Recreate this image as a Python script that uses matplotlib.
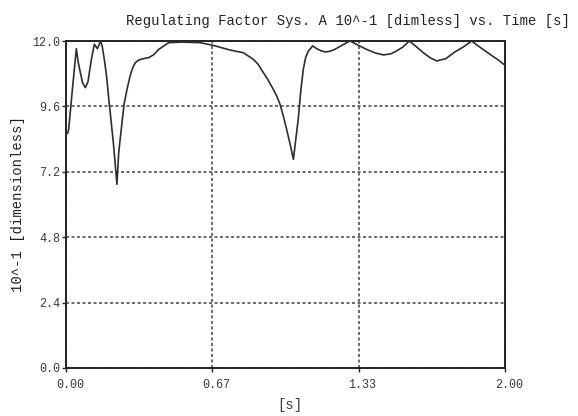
import matplotlib
matplotlib.use('Agg')
import matplotlib.pyplot as plt
from matplotlib.transforms import ScaledTranslation

# regulating factor trace (10^-1, dimensionless) against time in seconds
time_s = [0.0, 0.008, 0.012, 0.030, 0.047, 0.056, 0.075, 0.088, 0.100, 0.115,
          0.129, 0.143, 0.158, 0.165, 0.175, 0.185, 0.195, 0.205, 0.217, 0.225,
          0.232, 0.240, 0.255, 0.265, 0.278, 0.290, 0.301, 0.315, 0.331, 0.350,
          0.377, 0.400, 0.422, 0.468, 0.528, 0.610, 0.671, 0.747, 0.808, 0.853,
          0.875, 0.899, 0.920, 0.944, 0.960, 0.975, 0.990, 1.005, 1.020, 1.036,
          1.047, 1.058, 1.070, 1.081, 1.092, 1.104, 1.124, 1.142, 1.160, 1.180,
          1.200, 1.218, 1.233, 1.248, 1.270, 1.294, 1.330, 1.370, 1.410, 1.446,
          1.480, 1.503, 1.535, 1.564, 1.595, 1.628, 1.660, 1.689, 1.730, 1.772,
          1.810, 1.848, 1.890, 1.932, 1.970, 2.0]
factor = [8.60, 8.62, 8.75, 10.30, 11.72, 11.20, 10.48, 10.29, 10.50, 11.30,
          11.88, 11.72, 12.0, 11.80, 11.30, 10.70, 9.86, 9.10, 8.15, 7.40,
          6.74, 7.90, 9.00, 9.70, 10.23, 10.65, 10.96, 11.20, 11.30, 11.35,
          11.39, 11.50, 11.69, 11.94, 11.96, 11.94, 11.84, 11.67, 11.57, 11.33,
          11.15, 10.84, 10.58, 10.23, 9.98, 9.68, 9.25, 8.76, 8.25, 7.66,
          8.40, 9.13, 10.20, 10.96, 11.40, 11.63, 11.82, 11.72, 11.65, 11.60,
          11.62, 11.67, 11.73, 11.80, 11.90, 12.0, 11.85, 11.69, 11.56, 11.49,
          11.53, 11.62, 11.78, 12.0, 11.80, 11.57, 11.38, 11.27, 11.35, 11.60,
          11.78, 12.0, 11.75, 11.51, 11.30, 11.11]

x_ticks = [0.0, 2 / 3, 4 / 3, 2.0]
x_labels = ['0.00', '0.67', '1.33', '2.00']
y_ticks = [0.0, 2.4, 4.8, 7.2, 9.6, 12.0]
y_labels = ['0.0', '2.4', '4.8', '7.2', '9.6', '12.0']

mono = 'Liberation Mono'
txt = '#3a3a3a'

fig = plt.figure(figsize=(5.78, 4.16), dpi=100)
ax = fig.add_axes([0.1142, 0.1154, 0.7595, 0.786])

ax.plot(time_s, factor, color='#2e2e2e', lw=1.2, zorder=3)

ax.set_xlim(0, 2.0)
ax.set_ylim(0, 12.0)
ax.set_xticks(x_ticks)
ax.set_xticklabels(x_labels, fontfamily=mono, fontsize=8.5, color=txt)
ax.set_yticks(y_ticks)
ax.set_yticklabels(y_labels, fontfamily=mono, fontsize=8.5, color=txt)
ax.tick_params(length=3, width=1.0, color='#222222', pad=1)
ax.tick_params(axis='x', pad=5)

# x labels sit a little to the right of their ticks
shift = ScaledTranslation(4 / 100, 0, fig.dpi_scale_trans)
for lab in ax.get_xticklabels():
    lab.set_transform(lab.get_transform() + shift)

ax.grid(True, color='#444444', linestyle=(0, (2.0, 1.6)), lw=1.1)
for side in ax.spines.values():
    side.set_color('#222222')
    side.set_linewidth(1.4)

fig.text(0.986, 0.95, 'Regulating Factor Sys. A 10^-1 [dimless] vs. Time [s]',
         ha='right', va='center', fontfamily=mono, fontsize=10, color='#222222')
fig.text(0.031, 0.51, '10^-1 [dimensionless]', rotation=90, ha='center',
         va='center', fontfamily=mono, fontsize=10, color='#222222')
fig.text(0.502, 0.026, '[s]', ha='center', va='center', fontfamily=mono,
         fontsize=10, color=txt)

fig.savefig('out.png', dpi=100)
